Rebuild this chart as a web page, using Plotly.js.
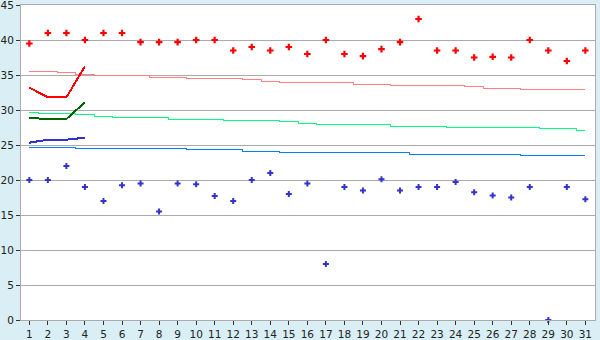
<!DOCTYPE html>
<html>
<head>
<meta charset="utf-8">
<script src="https://cdn.plot.ly/plotly-3.0.1.min.js"></script>
<style>
  html, body { margin: 0; padding: 0; background: #d9eff5; }
  #chart { width: 600px; height: 340px; }
  .js-plotly-plot .scatterlayer .js-line { shape-rendering: crispEdges; }
</style>
</head>
<body>
<div id="chart"></div>
<script>
// Days (categories)
const days = [1,2,3,4,5,6,7,8,9,10,11,12,13,14,15,16,17,18,19,20,21,22,23,24,25,26,27,28,29,30,31];

// Daily high points (red crosses)
const highPoints = [39.5,41,41,40,41,41,39.7,39.7,39.7,40,40,38.5,39,38.5,39,38,40,38,37.7,38.7,39.7,43,38.5,38.5,37.5,37.6,37.5,40,38.5,37,38.5];

// Daily low points (blue crosses)
const lowPoints = [20,20,22,19,17,19.25,19.5,15.5,19.5,19.4,17.7,17,20,21,18,19.5,8,19,18.5,20.1,18.5,19,19,19.7,18.25,17.8,17.5,19,0,19,17.25];

// Thin reference lines (step per day)
const refHigh = [35.43,35.43,35.29,35.14,35.0,35.0,34.86,34.71,34.71,34.57,34.43,34.43,34.29,34.14,34.0,34.0,34.0,33.86,33.71,33.71,33.57,33.43,33.43,33.43,33.29,33.14,33.14,33.0,33.0,33.0,32.86];
const refMid  = [29.71,29.57,29.57,29.29,29.14,29.0,29.0,28.86,28.71,28.71,28.71,28.57,28.43,28.43,28.29,28.14,28.0,28.0,28.0,27.86,27.71,27.71,27.71,27.57,27.57,27.43,27.43,27.43,27.29,27.29,27.14];
const refLow  = [24.71,24.71,24.71,24.57,24.57,24.43,24.43,24.43,24.43,24.29,24.29,24.29,24.14,24.14,24.0,24.0,24.0,24.0,24.0,23.86,23.86,23.71,23.71,23.71,23.71,23.71,23.71,23.57,23.57,23.57,23.43];

// Thick lines for the first days
const thickDays = [1,2,3,4];
const thickHigh = [33.19,31.81,31.81,36.24];
const thickMid  = [28.86,28.71,28.71,31.1];
const thickLow  = [25.33,25.76,25.76,26.04];

function stepLine(y, color) {
  return { x: days, y: y, type: 'scatter', mode: 'lines',
           line: { color: color, width: 1, shape: 'hvh' }, hoverinfo: 'skip' };
}
function thickLine(y, color) {
  return { x: thickDays, y: y, type: 'scatter', mode: 'lines',
           line: { color: color, width: 2 }, hoverinfo: 'skip' };
}
function points(y, color, size) {
  return { x: days, y: y, type: 'scatter', mode: 'markers', cliponaxis: false,
           marker: { symbol: 'cross', color: color, size: size, line: { width: 0 } } };
}

const data = [
  stepLine(refHigh, '#ff8080'),
  stepLine(refMid, '#00ff80'),
  stepLine(refLow, '#0080ff'),
  thickLine(thickHigh, '#ff0000'),
  thickLine(thickMid, '#006400'),
  thickLine(thickLow, '#3333cc'),
  points(highPoints, '#ff0000', 5.5),
  points(lowPoints, '#3333cc', 5)
];

const axisFont = { family: 'DejaVu Sans, Verdana, sans-serif', size: 10.5, color: '#222' };

const layout = {
  width: 600, height: 340,
  margin: { l: 21, r: 5, t: 5, b: 20 },
  paper_bgcolor: '#d9eff5',
  plot_bgcolor: '#ffffff',
  showlegend: false,
  xaxis: {
    range: [0.55, 31.52],
    tickvals: days,
    ticktext: days.map(String),
    ticks: 'outside', ticklen: 4, tickcolor: '#333', tickwidth: 1,
    showgrid: false, zeroline: false,
    showline: true, linecolor: '#aaaaaa', linewidth: 1, mirror: true,
    tickfont: axisFont,
    ticklabeloverflow: 'allow'
  },
  yaxis: {
    range: [0, 45], dtick: 5, tick0: 0,
    ticks: 'outside', ticklen: 4, tickcolor: '#333', tickwidth: 1,
    showgrid: true, gridcolor: '#aaaaaa', gridwidth: 1,
    zeroline: false,
    showline: true, linecolor: '#aaaaaa', linewidth: 1, mirror: true,
    tickfont: axisFont,
    ticklabeloverflow: 'allow'
  }
};

Plotly.newPlot('chart', data, layout, { displayModeBar: false, staticPlot: true });
</script>
</body>
</html>
